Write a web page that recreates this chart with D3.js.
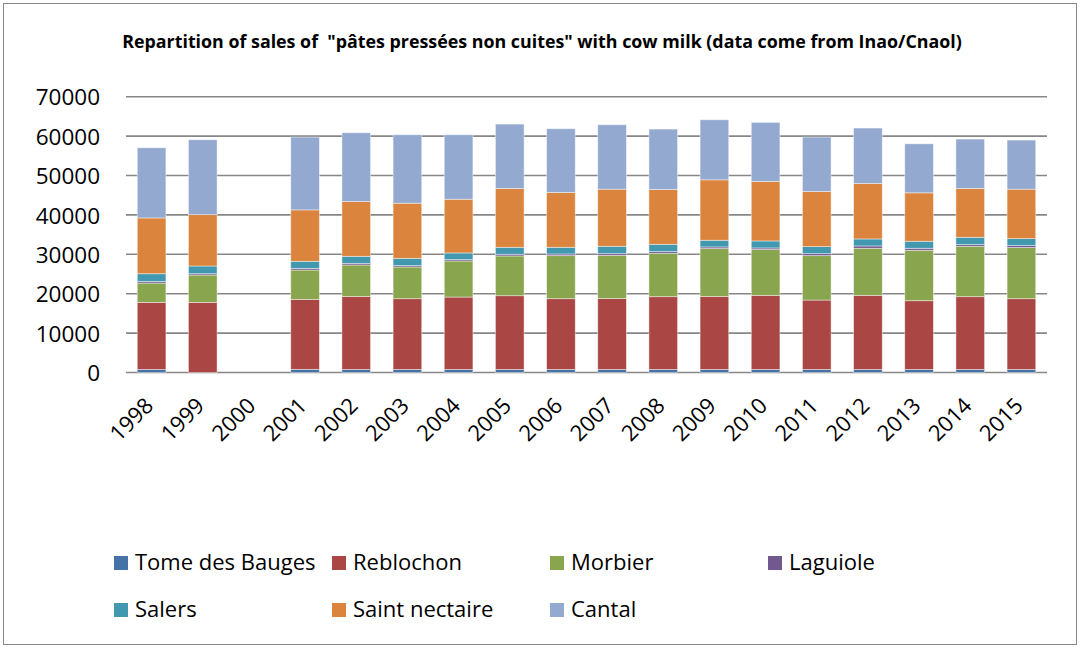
<!DOCTYPE html>
<html>
<head>
<meta charset="utf-8">
<script src="https://cdn.jsdelivr.net/npm/d3@7"></script>
<style>
  html, body { margin: 0; padding: 0; background: #fff; }
  svg { display: block; font-family: "Open Sans", "Liberation Sans", sans-serif; }
</style>
</head>
<body>
<svg id="chart" width="1080" height="648"></svg>
<script>
const years = ["1998","1999","2000","2001","2002","2003","2004","2005","2006","2007","2008","2009","2010","2011","2012","2013","2014","2015"];
const seriesNames = ["Tome des Bauges","Reblochon","Morbier","Laguiole","Salers","Saint nectaire","Cantal"];
const tomeDesBauges = [760, 0, null, 800, 760, 760, 760, 760, 760, 760, 760, 760, 760, 760, 760, 760, 760, 760];
const reblochon     = [17040, 17800, null, 17760, 18560, 17970, 18390, 18730, 17970, 18050, 18480, 18560, 18820, 17630, 18820, 17460, 18480, 17970];
const morbier       = [4900, 6940, null, 7450, 7970, 8050, 9160, 10090, 10930, 10940, 11020, 12120, 11610, 11270, 11950, 12800, 12800, 12970];
const laguiole      = [400, 330, null, 430, 420, 340, 340, 420, 430, 420, 420, 430, 420, 510, 590, 510, 420, 510];
const salers        = [1970, 1960, null, 1780, 1780, 1860, 1690, 1780, 1690, 1870, 1860, 1690, 1780, 1780, 1780, 1780, 1860, 1770];
const saintNectaire = [14160, 13040, null, 13050, 13900, 13990, 13645, 14920, 13900, 14490, 13900, 15340, 15090, 13980, 14070, 12290, 12380, 12550];
const cantal        = [17800, 19000, null, 18480, 17460, 17370, 16355, 16350, 16190, 16350, 15340, 15250, 15000, 13820, 14070, 12450, 12540, 12460];
const yTicks = [0, 10000, 20000, 30000, 40000, 50000, 60000, 70000];
const colors = ["#4572A7","#AA4643","#89A54E","#71588F","#4198AF","#DB843D","#93A9CF"];
const titleText = 'Repartition of sales of  "pâtes pressées non cuites" with cow milk (data come from Inao/Cnaol)';

const seriesValues = [tomeDesBauges, reblochon, morbier, laguiole, salers, saintNectaire, cantal];
const rows = years.map((y, i) => {
  const r = { year: y };
  seriesNames.forEach((s, k) => { r[s] = seriesValues[k][i]; });
  return r;
});

const svg = d3.select("#chart");

// outer border
svg.append("rect").attr("x", 3.5).attr("y", 3.5).attr("width", 1073).attr("height", 641)
  .attr("fill", "#fff").attr("stroke", "#868686").attr("stroke-width", 1);

const plot = { left: 126, right: 1047, top: 96.7, bottom: 372.5 };

const x = d3.scaleBand().domain(years).range([plot.left, plot.right])
  .paddingInner(0.44).paddingOuter(0.22);
const y = d3.scaleLinear().domain([0, 70000]).range([plot.bottom, plot.top]);

// gridlines
svg.append("g").selectAll("line").data(yTicks).join("line")
  .attr("x1", plot.left).attr("x2", plot.right)
  .attr("y1", d => y(d)).attr("y2", d => y(d))
  .attr("stroke", "#878787").attr("stroke-width", 1.6);

// y tick labels
const yAxis = d3.axisLeft(y).tickValues(yTicks).tickSize(0).tickPadding(0).tickFormat(d3.format("d"));
const yg = svg.append("g").attr("transform", `translate(100,0)`).call(yAxis);
yg.select(".domain").remove();
yg.selectAll("text").attr("font-size", 22.5).attr("fill", "#000")
  .attr("font-family", '"Open Sans", sans-serif').attr("dy", "0.36em");

// stacked bars
const stack = d3.stack().keys(seriesNames).value((d, k) => d[k] ?? 0);
const stacked = stack(rows);
svg.append("g").selectAll("g").data(stacked).join("g")
  .attr("fill", (d, i) => colors[i])
  .selectAll("rect").data(d => d.filter(v => v.data[d.key] != null && v[1] - v[0] > 0)).join("rect")
  .attr("x", d => x(d.data.year))
  .attr("width", x.bandwidth())
  .attr("y", d => y(d[1]))
  .attr("height", d => y(d[0]) - y(d[1]))
  .attr("stroke", "rgba(255,255,255,0.55)").attr("stroke-width", 0.8);

// x labels
const xAxis = d3.axisBottom(x).tickSize(0).tickPadding(0);
const xg = svg.append("g").call(xAxis);
xg.select(".domain").remove();
xg.selectAll(".tick").attr("transform", d => `translate(${x(d) + x.bandwidth() / 2 + 3},407)`);
xg.selectAll("text").attr("font-size", 22).attr("fill", "#000")
  .attr("font-family", '"Open Sans", sans-serif')
  .attr("text-anchor", "end").attr("y", 0).attr("dy", 0)
  .attr("transform", "rotate(-45)");

// title (fit to reference width)
const title = svg.append("text").attr("x", 542).attr("y", 48).attr("text-anchor", "middle")
  .attr("font-weight", "bold").attr("font-size", 16).attr("fill", "#000")
  .attr("font-family", '"Open Sans", sans-serif')
  .attr("xml:space", "preserve").style("white-space", "pre").text(titleText);
const w = title.node().getComputedTextLength();
title.attr("font-size", 16 * 840 / w);

// legend
const legendPos = [[114, 556], [332, 556], [550, 556], [768, 556], [114, 603], [332, 603], [550, 603]];
const lg = svg.append("g").selectAll("g").data(seriesNames).join("g")
  .attr("transform", (d, i) => `translate(${legendPos[i][0]},${legendPos[i][1]})`);
lg.append("rect").attr("width", 14).attr("height", 14).attr("fill", (d, i) => colors[i]);
lg.append("text").attr("x", 21).attr("y", 13.5).attr("font-size", 22).attr("fill", "#000")
  .attr("font-family", '"Open Sans", sans-serif').text(d => d);
</script>
</body>
</html>
